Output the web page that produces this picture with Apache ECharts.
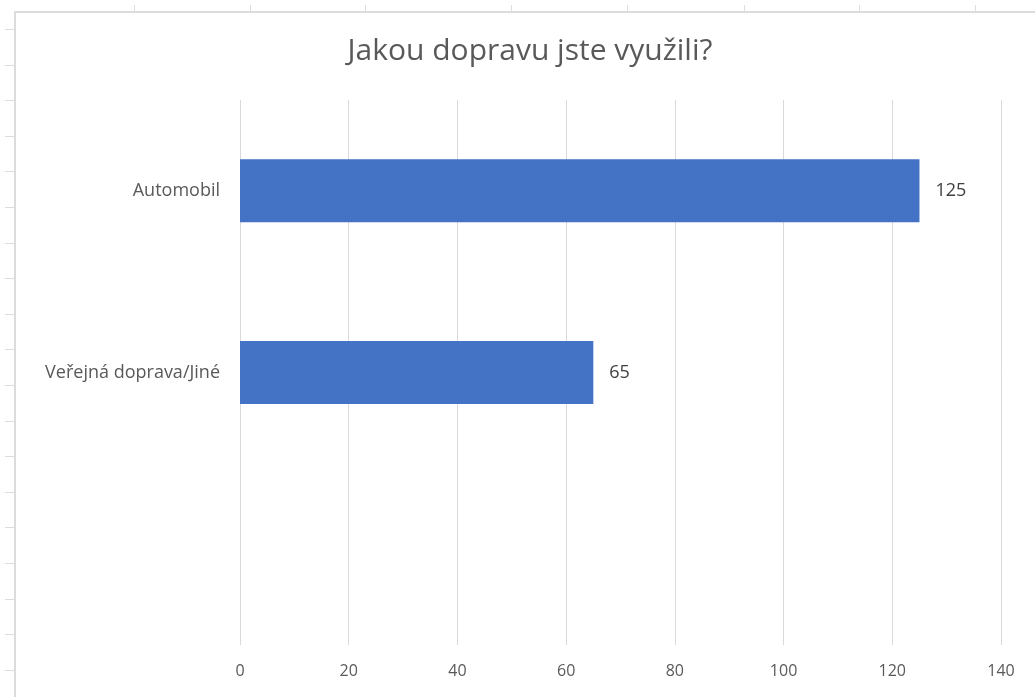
<!DOCTYPE html>
<html>
<head>
<meta charset="utf-8">
<script src="https://cdn.jsdelivr.net/npm/echarts@6/dist/echarts.min.js"></script>
<style>
html,body{margin:0;padding:0;background:#fff;}
#wrap{position:relative;width:1035px;height:697px;overflow:hidden;}
#chart{position:absolute;left:0;top:0;width:1035px;height:697px;}
.ln{position:absolute;background:#dcdcdc;}
</style>
</head>
<body>
<div id="wrap">
<div id="frame"></div>
<div id="chart"></div>
</div>
<script>
// Data
const categories = ['', 'Veřejná doprava/Jiné', 'Automobil'];
const values = [null, 65, 125];
const titleText = 'Jakou dopravu jste využili?';

// Spreadsheet frame decoration (column/row header separators)
(function(){
  const f = document.getElementById('frame');
  function add(l,t,w,h){const d=document.createElement('div');d.className='ln';d.style.left=l+'px';d.style.top=t+'px';d.style.width=w+'px';d.style.height=h+'px';f.appendChild(d);}
  add(14,11,1021,2);
  add(14,11,2,686);
  [134,250,365,511,627,744,859,975].forEach(x=>add(x,5,1,7));
  for(let i=0;i<19;i++){add(5,Math.round(29+35.6*i),10,1);}
})();

const chart = echarts.init(document.getElementById('chart'));
chart.setOption({
  backgroundColor: 'transparent',
  animation: false,
  title: {
    text: titleText,
    left: 525, textAlign: 'center',
    top: 31,
    textStyle: {fontFamily: 'Open Sans, sans-serif', fontSize: 30, fontWeight: 'normal', color: '#595959'}
  },
  grid: {left: 240, right: 34, top: 100, bottom: 52, containLabel: false},
  xAxis: {
    type: 'value', min: 0, max: 140, interval: 20,
    axisLine: {show: false}, axisTick: {show: false},
    splitLine: {lineStyle: {color: '#d9d9d9', width: 1}},
    axisLabel: {margin: 18, color: '#595959', fontSize: 16, fontFamily: 'Open Sans, sans-serif'}
  },
  yAxis: {
    type: 'category', data: categories,
    axisLine: {show: false}, axisTick: {show: false},
    axisLabel: {margin: 20, color: '#595959', fontSize: 18, fontFamily: 'Open Sans, sans-serif'}
  },
  series: [{
    type: 'bar', data: values, barWidth: 63,
    itemStyle: {color: '#4472C4'},
    label: {show: true, position: 'right', distance: 16, color: '#404040', fontSize: 18, fontFamily: 'Open Sans, sans-serif'}
  }]
});
</script>
</body>
</html>
